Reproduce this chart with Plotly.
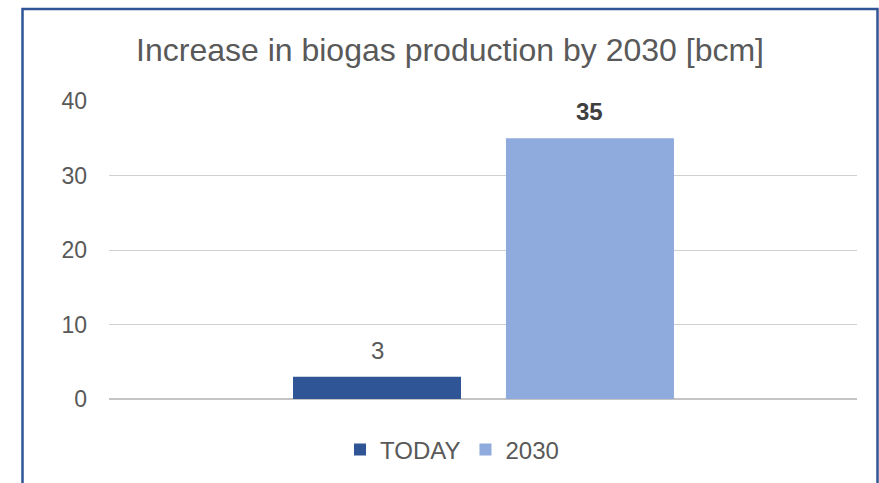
import plotly.graph_objects as go

# ---- data ----
series_names = ["TODAY", "2030"]
series_values = [3, 35]
series_colors = ["#2F5597", "#8FAADC"]
label_colors = ["#595959", "#404040"]
label_weights = ["normal", "bold"]
title_text = "Increase in biogas production by 2030 [bcm]"
y_ticks = [0, 10, 20, 30, 40]

W, H = 879, 483
ML, MR, MT, MB = 109, 22, 101, 84

bar_width = 0.2246
bar_offsets = [-0.254, 0.0307]

FONT = "Liberation Sans, Arial, sans-serif"

fig = go.Figure()
for name, val, col, off in zip(series_names, series_values, series_colors, bar_offsets):
    fig.add_trace(go.Bar(
        x=[0], y=[val], name=name,
        marker=dict(color=col, line=dict(width=0)),
        width=bar_width, offset=off,
        cliponaxis=False,
    ))

# data labels above the bars
for val, off, lcol, wt in zip(series_values, bar_offsets, label_colors, label_weights):
    fig.add_annotation(x=off + bar_width / 2, y=val, xref="x", yref="y",
                       text=str(val), showarrow=False, yanchor="bottom", yshift=11,
                       font=dict(size=24, color=lcol, family=FONT, weight=wt))

# chart border (in paper coordinates computed from pixels)
pw = W - ML - MR
ph = H - MT - MB
def px_x(p):
    return (p - ML) / pw
def px_y(p):
    return (H - MB - p) / ph

fig.add_shape(type="path", xref="paper", yref="paper",
              path=f"M {px_x(22.5)} {px_y(500)} L {px_x(22.5)} {px_y(9)} L {px_x(877.5)} {px_y(9)} L {px_x(877.5)} {px_y(500)}",
              line=dict(color="#2F5597", width=2.5), layer="above")

fig.update_layout(
    width=W, height=H,
    margin=dict(l=ML, r=MR, t=MT, b=MB),
    paper_bgcolor="white", plot_bgcolor="white",
    font=dict(family=FONT, color="#595959"),
    barmode="overlay",
    showlegend=True,
    title=dict(text=title_text, x=450 / W, xanchor="center", xref="container",
               y=1 - 50 / H, yanchor="middle", yref="container",
               font=dict(size=32, color="#595959")),
    legend=dict(orientation="h", x=452 / W, xanchor="center", xref="container",
                y=1 - 450 / H, yanchor="middle", yref="container",
                font=dict(size=24, color="#595959"), itemwidth=30,
                traceorder="normal", tracegroupgap=0),
    xaxis=dict(range=[-0.5, 0.5], showticklabels=False, showgrid=False,
               zeroline=False, showline=False, fixedrange=True),
    yaxis=dict(range=[0, 40], tickvals=y_ticks, showgrid=True, gridcolor="#D0D0D0",
               gridwidth=1.2, zeroline=True, zerolinecolor="#C4C4C4", zerolinewidth=1.5,
               showline=False, ticks="", ticklabelstandoff=21,
               tickfont=dict(size=23, color="#595959")),
)

fig.write_html("out.html")
